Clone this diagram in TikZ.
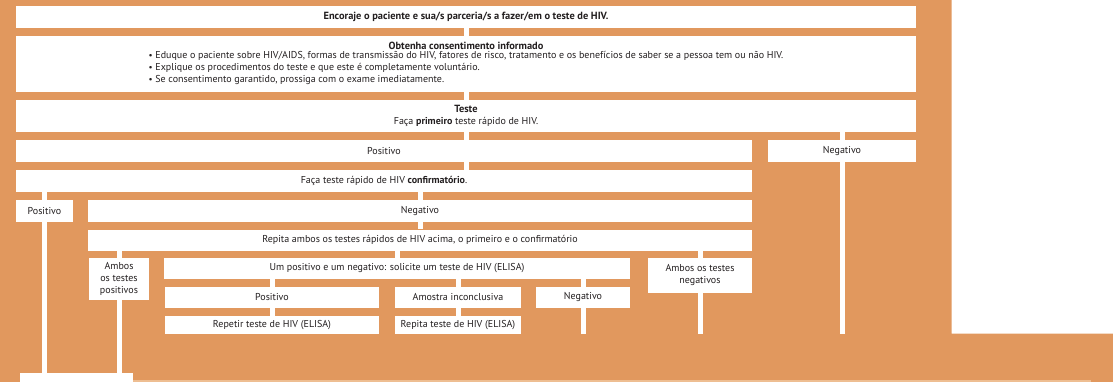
\documentclass[tikz,border=0pt]{standalone}
\usepackage{fontspec}
\setmainfont{PT Sans}
\usepackage{tikz}
\definecolor{flowOrange}{RGB}{225,152,94}
\definecolor{flowLight}{RGB}{238,190,146}
\definecolor{flowText}{RGB}{35,31,32}
\newcommand{\destaque}[1]{{\fontsize{10.4}{12}\selectfont\bfseries #1}}

\begin{document}
\begin{tikzpicture}[x=1pt, y=-1pt,
	box/.style={fill=white, inner sep=0pt, text=flowText, align=center,
		font=\fontsize{10}{12}\selectfont},
	link/.style={draw=white, line width=5pt}]
			%   %   %   %   %   %   %   %   %   %   %
			%   Background
				\useasboundingbox (0,0) rectangle (1113,382);
				\fill[flowOrange] (0,0) -- (951.5,0) -- (951.5,333.5) -- (1113,333.5)
					-- (1113,382) -- (0,382) -- cycle;
				\coordinate (corte) at (0,333.5);
			%   %   %   %   %   %   %   %   %   %   %
			%   Encourage, consent, test
				\node[box, minimum width=900pt, minimum height=22pt] (enc) at (466,17)
				{\destaque{Encoraje o paciente e sua/s parceria/s a fazer/em o teste de HIV.}};
				\node[box, minimum width=900pt, minimum height=56pt] (cons) at (466,64)
				{\destaque{Obtenha consentimento informado}\\
				\begin{tabular}{@{}l@{}}
				{\small•} Eduque o paciente sobre HIV/AIDS, formas de transmissão do HIV, fatores de risco, tratamento e os benefícios de saber se a pessoa tem ou não HIV.\\
				{\small•} Explique os procedimentos do teste e que este é completamente voluntário.\\
				{\small•} Se consentimento garantido, prossiga com o exame imediatamente.
				\end{tabular}};
				\node[box, minimum width=900pt, minimum height=32pt] (teste) at (466,116)
				{\destaque{Teste}\\ Faça \textbf{primeiro} teste rápido de HIV.};
			%   %   %   %   %   %   %   %   %   %   %
			%   First result
				\node[box, minimum width=736pt, minimum height=22pt] (posA) at (384,151) {Positivo};
				\node[box, minimum width=148pt, minimum height=22pt] (negA) at (842,151) {Negativo};
				\node[box, minimum width=736pt, minimum height=22pt] (conf) at (384,181)
				{Faça teste rápido de HIV \textbf{confirmatório}.};
			%   %   %   %   %   %   %   %   %   %   %
			%   Confirmatory result
				\node[box, minimum width=57pt, minimum height=22pt] (posB) at (44.5,211) {Positivo};
				\node[box, minimum width=664pt, minimum height=22pt] (negB) at (420,211) {Negativo};
				\node[box, minimum width=664pt, minimum height=21pt] (rep) at (420,240)
				{Repita ambos os testes rápidos de HIV acima, o primeiro e o confirmatório};
			%   %   %   %   %   %   %   %   %   %   %
			%   Repeated tests
				\node[box, minimum width=60pt, minimum height=42pt] (ambP) at (119,279)
				{Ambos\\ os testes\\ positivos};
				\node[box, minimum width=466pt, minimum height=21pt] (um) at (397,268.5)
				{Um positivo e um negativo: solicite um teste de HIV (ELISA)};
				\node[box, minimum width=104pt, minimum height=35pt] (ambN) at (700,275.5)
				{Ambos os testes\\ negativos};
			%   %   %   %   %   %   %   %   %   %   %
			%   ELISA result
				\node[box, minimum width=214pt, minimum height=21pt] (posC) at (272,297.5) {Positivo};
				\node[box, minimum width=126pt, minimum height=21pt] (amo) at (458,297.5) {Amostra inconclusiva};
				\node[box, minimum width=94pt, minimum height=21pt] (negC) at (583,297.5) {Negativo};
				\node[box, minimum width=214pt, minimum height=17.5pt, anchor=north] (repC1) at (272,316)
				{Repetir teste de HIV (ELISA)};
				\node[box, minimum width=126pt, minimum height=17.5pt, anchor=north] (repC2) at (458,316)
				{Repita teste de HIV (ELISA)};
			%   %   %   %   %   %   %   %   %   %   %
			%   Bottom
				\node[box, minimum width=113pt, minimum height=9pt, anchor=north west] (fim) at (20,373) {};
				\fill[flowLight] (fim.north east |- 0,379.5) rectangle (1091,382);
			%   %   %   %   %   %   %   %   %   %   %
			%   Connectors
				\draw[link] (enc.south) -- (cons.north);
				\draw[link] (cons.south) -- (teste.north);
				\draw[link] (teste.south) -- (teste.south |- posA.north);
				\draw[link] (teste.south -| negA) -- (negA.north);
				\draw[link] (negA.south) -- (negA.south |- corte);
				\draw[link] (posA.south -| teste) -- (conf.north -| teste);
				\draw[link] (conf.south -| posB) -- (posB.north);
				\draw[link] (conf.south -| negB) -- (negB.north);
				\draw[link] (posB.south) -- (posB.south |- fim.north);
				\draw[link] (negB.south) -- (rep.north);
				\draw[link] (rep.south -| ambP) -- (ambP.north);
				\draw[link] (rep.south -| um) -- (um.north);
				\draw[link] (rep.south -| ambN) -- (ambN.north);
				\draw[link] (ambP.south) -- (ambP.south |- fim.north);
				\draw[link] (ambN.south) -- (ambN.south |- corte);
				\draw[link] (um.south -| posC) -- (posC.north);
				\draw[link] (um.south -| amo) -- (amo.north);
				\draw[link] (um.south -| negC) -- (negC.north);
				\draw[link] (posC.south) -- (repC1.north);
				\draw[link] (amo.south) -- (repC2.north);
				\draw[link] (negC.south) -- (negC.south |- corte);
\end{tikzpicture}
\end{document}
